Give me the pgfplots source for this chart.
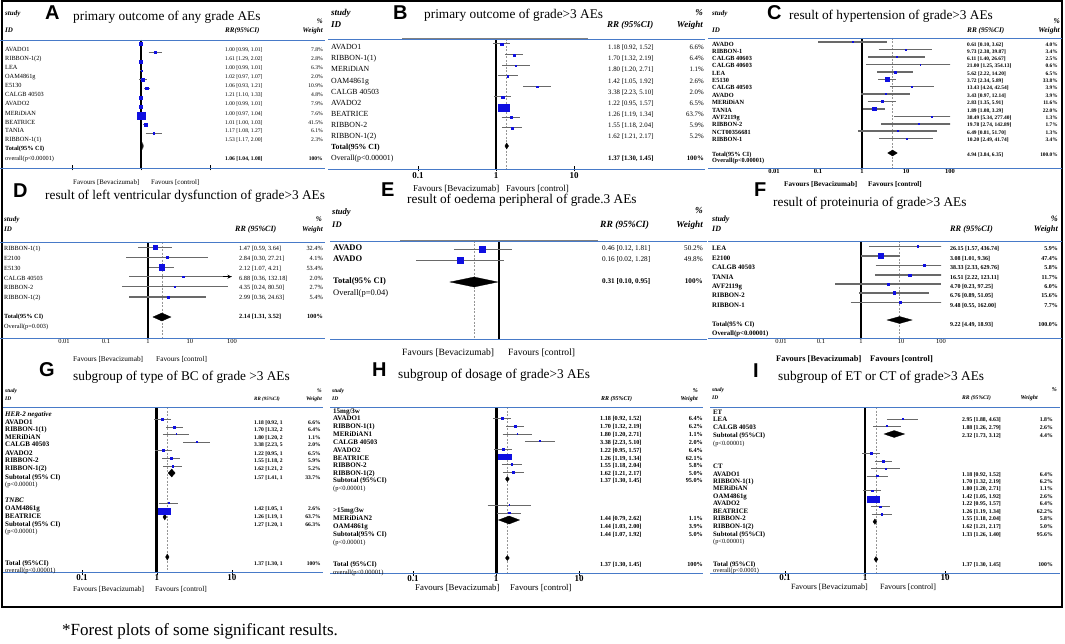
\documentclass[border=0pt]{standalone}
\usepackage{pgfplots}
\pgfplotsset{compat=1.18}
\usepackage{fontspec}
\setmainfont{Liberation Serif}
\newfontfamily\letterfont{Liberation Sans}
\usetikzlibrary{arrows.meta}

\definecolor{lnblue}{RGB}{72,122,200}
\definecolor{mkblue}{RGB}{15,15,225}
\definecolor{cigray}{RGB}{105,105,105}
\definecolor{refgray}{RGB}{150,150,150}

\newcommand{\fs}[1]{\fontsize{#1}{#1}\selectfont}

\pgfplotsset{
  forestax/.style={scale only axis, anchor=north west,
    axis x line=bottom, axis y line=none, x axis line style={draw=none},
    xminorticks=false, ytick=\empty, clip=true,
    major tick length=5pt, tick align=center,
    xtick style={black, line width=0.7pt},
    xticklabel style={inner sep=1pt}},
  refline/.style={black, line width=#1},
  poolline/.style={refgray, dash pattern=on 2pt off 1.5pt, line width=0.7pt},
  dia/.style={fill=black, draw=black, line width=0.3pt},
}

% one study: y (minus pixel row), RR, lower, upper, weight %, marker stretch
\newcommand{\st}[6]{%
  \addplot[cigray, line width=\ciw] coordinates {(#3,#1) (#4,#1)};
  \addplot[only marks, mark=square*, mkblue, mark size={\mc*sqrt(#5)},
    mark options={xscale=#6}] coordinates {(#2,#1)};
}

\newcommand{\leftcol}[3]{\foreach \yy/\tx in {#3}{\node[anchor=west, font=#2] at (#1,\yy) {\tx};}}
\newcommand{\rrcol}[4]{\foreach \yy/\rr/\ww in {#4}{%
  \node[anchor=west, font=#3] at (#1,\yy) {\rr};
  \node[anchor=east, font=#3] at (#2,\yy) {\ww};}}

\begin{document}
\begin{tikzpicture}
\path[use as bounding box] (0,0) rectangle (1065pt,-644pt);

% ---------------- A
\def\mc{0.54}\def\ciw{0.8pt}
\begin{axis}[forestax, xmode=log, at={(72pt,-40pt)}, width=138pt, height=128pt,
  xmin=0.1, xmax=10, ymin=-168, ymax=-40,
  xtick={0.1,1,10}, xticklabels={,,}]
  \addplot[refline=2.4pt] coordinates {(1,-40) (1,-168)};
  \st{-43.5}{1.00}{0.99}{1.01}{7.8}{1}
  \st{-52.5}{1.61}{1.29}{2.02}{2.8}{1}
  \st{-61.5}{1.00}{0.99}{1.01}{6.3}{1}
  \st{-70.5}{1.02}{0.97}{1.07}{2.0}{1}
  \st{-79.5}{1.06}{0.93}{1.21}{10.9}{1}
  \st{-88.5}{1.21}{1.10}{1.33}{4.8}{1}
  \st{-97.5}{1.00}{0.99}{1.01}{7.9}{1}
  \st{-107}{1.00}{0.97}{1.04}{7.6}{1}
  \st{-115.5}{1.01}{1.00}{1.03}{41.5}{1.1}
  \st{-124.5}{1.17}{1.08}{1.27}{6.1}{1}
  \st{-133.5}{1.53}{1.17}{2.00}{2.3}{1}
  \addplot[dia] coordinates {(1.04,-146) (1.06,-143) (1.08,-146) (1.06,-149)} -- cycle;
\end{axis}
% ---------------- B
\def\mc{0.44}\def\ciw{1pt}
\begin{axis}[forestax, xmode=log, at={(418pt,-39pt)}, width=156pt, height=130pt,
  xmin=0.1, xmax=10, ymin=-169, ymax=-39,
  xtick={0.1,1,10}, xticklabels={0.1,1,10},
  xticklabel style={font=\bfseries\fs{9}}]
  \addplot[refline=1.8pt] coordinates {(1,-39) (1,-169)};
  \addplot[poolline] coordinates {(1.37,-39) (1.37,-169)};
  \st{-44}{1.18}{0.92}{1.52}{6.6}{1}
  \st{-55}{1.70}{1.32}{2.19}{6.4}{1}
  \st{-65.5}{1.80}{1.20}{2.71}{1.1}{1}
  \st{-76}{1.42}{1.05}{1.92}{2.6}{1}
  \st{-86.5}{3.38}{2.23}{5.10}{2.0}{1}
  \st{-97}{1.22}{0.95}{1.57}{6.5}{1}
  \st{-107.5}{1.26}{1.19}{1.34}{63.7}{1.6}
  \st{-117.5}{1.55}{1.18}{2.04}{5.9}{1}
  \st{-128}{1.62}{1.21}{2.17}{5.2}{1}
  \addplot[dia] coordinates {(1.30,-146) (1.37,-143) (1.45,-146) (1.37,-149)} -- cycle;
\end{axis}
% ---------------- C
\def\mc{0.34}\def\ciw{1.2pt}
\begin{axis}[forestax, xmode=log, at={(774pt,-38pt)}, width=176pt, height=130pt,
  xmin=0.01, xmax=100, ymin=-168, ymax=-38, major tick length=0pt,
  xtick={0.01,0.1,1,10,100}, xticklabels={0.01,0.1,1,10,100},
  xticklabel style={font=\bfseries\fs{6.5}}]
  \addplot[refline=1.8pt] coordinates {(1,-38) (1,-168)};
  \addplot[poolline] coordinates {(4.94,-38) (4.94,-168)};
  \st{-42}{0.61}{0.10}{3.62}{4.0}{1}
  \st{-49.5}{9.73}{2.38}{39.87}{3.4}{1}
  \st{-57}{6.11}{1.40}{26.67}{2.5}{1}
  \st{-64.5}{21.00}{1.25}{354.13}{0.6}{1}
  \st{-72}{5.62}{2.22}{14.20}{6.5}{1}
  \st{-79.5}{3.72}{2.34}{5.89}{33.8}{1}
  \st{-86.5}{13.43}{4.24}{42.54}{3.9}{1}
  \st{-94}{3.43}{0.97}{12.14}{3.9}{1}
  \st{-101.5}{2.83}{1.35}{5.91}{11.6}{1}
  \st{-109}{1.89}{1.08}{3.29}{22.0}{1}
  \st{-116.5}{38.49}{5.34}{277.40}{1.3}{1}
  \st{-124}{19.78}{2.74}{142.89}{1.7}{1}
  \st{-131}{6.49}{0.81}{51.70}{1.3}{1}
  \st{-138.5}{10.20}{2.49}{41.74}{3.4}{1}
  \addplot[dia] coordinates {(3.84,-153) (4.94,-150) (6.35,-153) (4.94,-156)} -- cycle;
\end{axis}
% ---------------- D
\def\mc{0.38}\def\ciw{1.2pt}
\begin{axis}[forestax, xmode=log, at={(64pt,-242pt)}, width=168pt, height=96pt,
  xmin=0.01, xmax=100, ymin=-338, ymax=-242, major tick length=0pt,
  xtick={0.01,0.1,1,10,100}, xticklabels={0.01,0.1,1,10,100},
  xticklabel style={font=\fs{6.5}}]
  \addplot[refline=1.8pt] coordinates {(1,-242) (1,-338)};
  \addplot[poolline] coordinates {(2.14,-242) (2.14,-338)};
  \st{-247.3}{1.47}{0.59}{3.64}{32.4}{1}
  \st{-257.3}{2.84}{0.30}{27.21}{4.1}{1}
  \st{-267.3}{2.12}{1.07}{4.21}{53.4}{1}
  \st{-276.7}{6.88}{0.36}{132.18}{2.0}{1}
  \st{-286.7}{4.35}{0.24}{80.50}{2.7}{1}
  \st{-297}{2.99}{0.36}{24.63}{5.4}{1}
  \addplot[black, line width=1pt, -{Stealth[length=4pt,width=4pt]}] coordinates {(60,-276.7) (97,-276.7)};
  \addplot[dia] coordinates {(1.31,-317) (2.14,-313) (3.52,-317) (2.14,-321)} -- cycle;
\end{axis}
% ---------------- E
\def\mc{0.42}\def\ciw{1pt}
\begin{axis}[forestax, xmode=log, at={(401pt,-241pt)}, width=147pt, height=98pt,
  xmin=0.01, xmax=10, ymin=-339, ymax=-241, xtick=\empty]
  \addplot[refline=1.8pt] coordinates {(1,-241) (1,-339)};
  \addplot[poolline] coordinates {(0.31,-241) (0.31,-339)};
  \st{-249}{0.46}{0.12}{1.81}{50.2}{1}
  \st{-260}{0.16}{0.02}{1.28}{49.8}{1}
  \addplot[dia] coordinates {(0.10,-282) (0.31,-277) (0.95,-282) (0.31,-287)} -- cycle;
\end{axis}
% ---------------- F
\def\mc{0.36}\def\ciw{1.2pt}
\begin{axis}[forestax, xmode=log, at={(781pt,-241pt)}, width=160pt, height=97pt,
  xmin=0.01, xmax=100, ymin=-338, ymax=-241, major tick length=0pt,
  xtick={0.01,0.1,1,10,100}, xticklabels={0.01,0.1,1,10,100},
  xticklabel style={font=\fs{6.5}}]
  \addplot[refline=1.8pt] coordinates {(1,-241) (1,-338)};
  \addplot[poolline] coordinates {(9.22,-241) (9.22,-338)};
  \st{-246.5}{26.15}{1.57}{436.74}{5.9}{1}
  \st{-256}{3.08}{1.01}{9.36}{47.4}{1}
  \st{-265.5}{38.33}{2.33}{629.76}{5.8}{1}
  \st{-275}{16.51}{2.22}{123.11}{11.7}{1}
  \st{-284}{4.70}{0.23}{97.25}{6.0}{1}
  \st{-293}{6.76}{0.89}{51.05}{15.6}{1}
  \st{-302.5}{9.48}{0.55}{162.00}{7.7}{1}
  \addplot[dia] coordinates {(4.49,-320) (9.22,-316.5) (18.93,-320) (9.22,-323.5)} -- cycle;
\end{axis}
% ---------------- G
\def\mc{0.375}\def\ciw{1pt}
\begin{axis}[forestax, xmode=log, at={(82pt,-407pt)}, width=150pt, height=165pt,
  xmin=0.1, xmax=10, ymin=-572, ymax=-407,
  xtick={0.1,1,10}, xticklabels={0.1,1,10},
  xticklabel style={font=\bfseries\fs{9}, yshift=1pt}]
  \addplot[refline=3pt] coordinates {(1,-407) (1,-572)};
  \addplot[poolline] coordinates {(1.37,-407) (1.37,-572)};
  \st{-419}{1.18}{0.92}{1.52}{6.6}{1}
  \st{-427}{1.70}{1.32}{2.19}{6.4}{1}
  \st{-434}{1.80}{1.20}{2.71}{1.1}{1}
  \st{-442}{3.38}{2.23}{5.10}{2.0}{1}
  \st{-450}{1.22}{0.95}{1.57}{6.5}{1}
  \st{-458}{1.55}{1.18}{2.04}{5.9}{1}
  \st{-466}{1.62}{1.21}{2.17}{5.2}{1}
  \st{-503}{1.42}{1.05}{1.92}{2.6}{1}
  \st{-511}{1.26}{1.19}{1.34}{63.7}{2}
  \addplot[dia] coordinates {(1.41,-473) (1.57,-469) (1.75,-473) (1.57,-477)} -- cycle;
  \addplot[dia] coordinates {(1.20,-517) (1.27,-514) (1.34,-517) (1.27,-520)} -- cycle;
  \addplot[dia] coordinates {(1.30,-557) (1.37,-554) (1.45,-557) (1.37,-560)} -- cycle;
\end{axis}
% ---------------- H
\def\mc{0.32}\def\ciw{1pt}
\begin{axis}[forestax, xmode=log, at={(413pt,-407pt)}, width=166pt, height=166pt,
  xmin=0.1, xmax=10, ymin=-573, ymax=-407,
  xtick={0.1,1,10}, xticklabels={0.1,1,10},
  xticklabel style={font=\bfseries\fs{9}, yshift=1pt}]
  \addplot[refline=3pt] coordinates {(1,-407) (1,-573)};
  \addplot[poolline] coordinates {(1.37,-407) (1.37,-573)};
  \st{-418}{1.18}{0.92}{1.52}{6.4}{1}
  \st{-426}{1.70}{1.32}{2.19}{6.2}{1}
  \st{-434}{1.80}{1.20}{2.71}{1.1}{1}
  \st{-441}{3.38}{2.23}{5.10}{2.0}{1}
  \st{-449}{1.22}{0.95}{1.57}{6.4}{1}
  \st{-457}{1.26}{1.19}{1.34}{62.1}{2.6}
  \st{-464}{1.55}{1.18}{2.04}{5.8}{1}
  \st{-472}{1.62}{1.21}{2.17}{5.0}{1}
  \st{-505}{1.44}{0.79}{2.62}{1.1}{1}
  \st{-513}{1.44}{1.03}{2.00}{3.9}{1}
  \addplot[dia] coordinates {(1.30,-479) (1.37,-476.5) (1.45,-479) (1.37,-481.5)} -- cycle;
  \addplot[dia] coordinates {(1.07,-520) (1.44,-516) (1.92,-520) (1.44,-524)} -- cycle;
  \addplot[dia] coordinates {(1.30,-558) (1.37,-555.5) (1.45,-558) (1.37,-560.5)} -- cycle;
\end{axis}
% ---------------- I
\def\mc{0.38}\def\ciw{1pt}
\begin{axis}[forestax, xmode=log, at={(785pt,-407pt)}, width=160pt, height=166pt,
  xmin=0.1, xmax=10, ymin=-573, ymax=-407,
  xtick={0.1,1,10}, xticklabels={0.1,1,10},
  xticklabel style={font=\bfseries\fs{9}, yshift=2pt}]
  \addplot[refline=2.5pt] coordinates {(1,-407) (1,-573)};
  \addplot[poolline] coordinates {(1.37,-407) (1.37,-573)};
  \st{-419}{2.95}{1.88}{4.63}{1.8}{1}
  \st{-426}{1.88}{1.26}{2.79}{2.6}{1}
  \st{-453.3}{1.18}{0.92}{1.52}{6.4}{1}
  \st{-461}{1.70}{1.32}{2.19}{6.2}{1}
  \st{-468.3}{1.80}{1.20}{2.71}{1.1}{1}
  \st{-476}{1.42}{1.05}{1.92}{2.6}{1}
  \st{-490.7}{1.22}{0.95}{1.57}{6.4}{1}
  \st{-499}{1.26}{1.19}{1.34}{62.2}{2}
  \st{-506.7}{1.55}{1.18}{2.04}{5.8}{1}
  \st{-514}{1.62}{1.21}{2.17}{5.0}{1}
  \addplot[dia] coordinates {(1.73,-434) (2.32,-430.5) (3.12,-434) (2.32,-437.5)} -- cycle;
  \addplot[dia] coordinates {(1.26,-521.7) (1.33,-519) (1.40,-521.7) (1.33,-524.4)} -- cycle;
  \addplot[dia] coordinates {(1.30,-559.3) (1.37,-556.5) (1.45,-559.3) (1.37,-562)} -- cycle;
\end{axis}

\begin{scope}[x=1pt, y=-1pt, every node/.style={inner sep=0pt, text height=0.66em, text depth=0pt}]
% frame, rules
\draw[line width=1.5pt] (2,1) rectangle (1062,607);
\foreach \ya/\yb/\xa/\xb in {40/168/0/325, 39/169/328/705, 38/168/708/1062,
  242/338/0/325, 241/339/330/707, 241/338/708/1062,
  407/572/3/323, 407/573/330/703, 407/573/710/1060}{
  \draw[lnblue, line width=0.9pt] (\xa,\ya) -- (\xb,\ya);
  \draw[lnblue, line width=0.9pt] (\xa,\yb) -- (\xb,\yb);}
\draw[gray, line width=1.6pt] (402,38.6) -- (588,38.6);
\draw[gray, line width=1.6pt] (400,240.6) -- (598,240.6);

% ---------------- A text
\node[anchor=west, font=\letterfont\bfseries\fs{20}] at (45,16) {A};
\node[anchor=west, font=\fs{13.3}] at (73,17) {primary outcome of any grade AEs};
\node[anchor=west, font=\bfseries\itshape\fs{7}] at (5,12) {study};
\node[anchor=west, font=\bfseries\itshape\fs{7}] at (5,29) {ID};
\node[anchor=west, font=\bfseries\itshape\fs{7}] at (225,29) {RR(95\%CI)};
\node[anchor=east, font=\bfseries\itshape\fs{7}] at (323,20) {\%};
\node[anchor=east, font=\bfseries\itshape\fs{7}] at (323,29) {Weight};
\leftcol{5}{\fs{6.3}}{48/{AVADO1}, 57/{RIBBON-1(2)}, 66/{LEA}, 75/{OAM4861g}, 84/{E5130},
  93/{CALGB 40503}, 102/{AVADO2}, 112/{MERiDiAN}, 121/{BEATRICE}, 129/{TANIA},
  138/{RIBBON-1(1)}, 157/{overall(p<0.00001)}}
\leftcol{5}{\bfseries\fs{6.3}}{147/{Total(95\% CI)}}
\rrcol{225}{323}{\fs{5.6}}{48/{1.00 [0.99, 1.01]}/{7.8\%}, 57/{1.61 [1.29, 2.02]}/{2.8\%},
  66/{1.00 [0.99, 1.01]}/{6.3\%}, 75/{1.02 [0.97, 1.07]}/{2.0\%}, 84/{1.06 [0.93, 1.21]}/{10.9\%},
  93/{1.21 [1.10, 1.33]}/{4.8\%}, 102/{1.00 [0.99, 1.01]}/{7.9\%}, 112/{1.00 [0.97, 1.04]}/{7.6\%},
  121/{1.01 [1.00, 1.03]}/{41.5\%}, 129/{1.17 [1.08, 1.27]}/{6.1\%}, 138/{1.53 [1.17, 2.00]}/{2.3\%}}
\rrcol{225}{323}{\bfseries\fs{5.6}}{157/{1.06 [1.04, 1.08]}/{100\%}}
\node[anchor=west, font=\fs{6.9}] at (73,181) {Favours [Bevacizumab]};
\node[anchor=west, font=\fs{6.9}] at (151,181) {Favours [control]};

% ---------------- B text
\node[anchor=west, font=\letterfont\bfseries\fs{20}] at (393,16) {B};
\node[anchor=west, font=\fs{13.3}] at (424,15) {primary outcome of grade>3 AEs};
\node[anchor=west, font=\bfseries\itshape\fs{9}] at (331,12) {study};
\node[anchor=west, font=\bfseries\itshape\fs{9}] at (331,24) {ID};
\node[anchor=west, font=\bfseries\itshape\fs{9}] at (607,24) {RR (95\%CI)};
\node[anchor=east, font=\bfseries\itshape\fs{9}] at (703,12) {\%};
\node[anchor=east, font=\bfseries\itshape\fs{9}] at (703,24) {Weight};
\leftcol{331}{\fs{7.8}}{46/{AVADO1}, 57/{RIBBON-1(1)}, 68/{MERiDiAN}, 80/{OAM4861g},
  91/{CALGB 40503}, 102/{AVADO2}, 113/{BEATRICE}, 124/{RIBBON-2}, 135/{RIBBON-1(2)},
  157/{Overall(p<0.00001)}}
\leftcol{331}{\bfseries\fs{7.8}}{146/{Total(95\% CI)}}
\rrcol{608}{704}{\fs{6.8}}{46/{1.18 [0.92, 1.52]}/{6.6\%}, 57/{1.70 [1.32, 2.19]}/{6.4\%},
  68/{1.80 [1.20, 2.71]}/{1.1\%}, 80/{1.42 [1.05, 1.92]}/{2.6\%}, 91/{3.38 [2.23, 5.10]}/{2.0\%},
  102/{1.22 [0.95, 1.57]}/{6.5\%}, 113/{1.26 [1.19, 1.34]}/{63.7\%}, 124/{1.55 [1.18, 2.04]}/{5.9\%},
  135/{1.62 [1.21, 2.17]}/{5.2\%}}
\rrcol{608}{704}{\bfseries\fs{6.8}}{157/{1.37 [1.30, 1.45]}/{100\%}}
\node[anchor=west, font=\fs{9}] at (413,188) {Favours [Bevacizumab]};
\node[anchor=west, font=\fs{9}] at (506,188) {Favours [control]};

% ---------------- C text
\node[anchor=west, font=\letterfont\bfseries\fs{20}] at (767,16) {C};
\node[anchor=west, font=\fs{13.3}] at (789,16) {result of hypertension of grade>3 AEs};
\node[anchor=west, font=\bfseries\itshape\fs{7}] at (712,12) {study};
\node[anchor=west, font=\bfseries\itshape\fs{7}] at (712,29) {ID};
\node[anchor=west, font=\bfseries\itshape\fs{7.2}] at (967,29) {RR (95\%CI)};
\node[anchor=east, font=\bfseries\itshape\fs{7.5}] at (1060,20) {\%};
\node[anchor=east, font=\bfseries\itshape\fs{7.5}] at (1060,29) {Weight};
\leftcol{712}{\bfseries\fs{6.3}}{43/{AVADO}, 50/{RIBBON-1}, 57/{CALGB 40603}, 64/{CALGB 40603},
  72/{LEA}, 79/{E5130}, 86/{CALGB 40503}, 94/{AVADO}, 101/{MERiDiAN}, 109/{TANIA},
  116/{AVF2119g}, 123/{RIBBON-2}, 131/{NCT00356681}, 138/{RIBBON-1},
  153/{Total(95\% CI)}, 159/{Overall(p<0.00001)}}
\rrcol{967}{1058}{\bfseries\fs{5.4}}{43/{0.61 [0.10, 3.62]}/{4.0\%}, 50/{9.73 [2.38, 39.87]}/{3.4\%},
  57/{6.11 [1.40, 26.67]}/{2.5\%}, 64/{21.00 [1.25, 354.13]}/{0.6\%}, 72/{5.62 [2.22, 14.20]}/{6.5\%},
  79/{3.72 [2.34, 5.89]}/{33.8\%}, 86/{13.43 [4.24, 42.54]}/{3.9\%}, 94/{3.43 [0.97, 12.14]}/{3.9\%},
  101/{2.83 [1.35, 5.91]}/{11.6\%}, 109/{1.89 [1.08, 3.29]}/{22.0\%}, 116/{38.49 [5.34, 277.40]}/{1.3\%},
  123/{19.78 [2.74, 142.89]}/{1.7\%}, 131/{6.49 [0.81, 51.70]}/{1.3\%}, 138/{10.20 [2.49, 41.74]}/{3.4\%},
  153/{4.94 [3.84, 6.35]}/{100.0\%}}
\node[anchor=west, font=\bfseries\fs{7.2}] at (784,183) {Favours [Bevacizumab]};
\node[anchor=west, font=\bfseries\fs{7.2}] at (868,183) {Favours [control]};

% ---------------- D text
\node[anchor=west, font=\letterfont\bfseries\fs{20}] at (13,194) {D};
\node[anchor=west, font=\fs{13.3}] at (45,196) {result of left ventricular dysfunction of grade>3 AEs};
\node[anchor=west, font=\bfseries\itshape\fs{7}] at (4,218) {study};
\node[anchor=west, font=\bfseries\itshape\fs{7}] at (4,228) {ID};
\node[anchor=west, font=\bfseries\itshape\fs{8}] at (235,228) {RR (95\%CI)};
\node[anchor=east, font=\bfseries\itshape\fs{7.2}] at (322,218) {\%};
\node[anchor=east, font=\bfseries\itshape\fs{7.2}] at (323,228) {Weight};
\leftcol{4}{\fs{6.3}}{247/{RIBBON-1(1)}, 257/{E2100}, 267/{E5130}, 277/{CALGB 40503},
  286/{RIBBON-2}, 296/{RIBBON-1(2)}, 325/{Overall(p=0.003)}}
\leftcol{4}{\bfseries\fs{6.3}}{315/{Total(95\% CI)}}
\rrcol{239}{323}{\fs{6.3}}{247/{1.47 [0.59, 3.64]}/{32.4\%}, 257/{2.84 [0.30, 27.21]}/{4.1\%},
  267/{2.12 [1.07, 4.21]}/{53.4\%}, 277/{6.88 [0.36, 132.18]}/{2.0\%}, 286/{4.35 [0.24, 80.50]}/{2.7\%},
  296/{2.99 [0.36, 24.63]}/{5.4\%}}
\rrcol{239}{323}{\bfseries\fs{6.3}}{315/{2.14 [1.31, 3.52]}/{100\%}}
\node[anchor=west, font=\fs{7.3}] at (73,358) {Favours [Bevacizumab]};
\node[anchor=west, font=\fs{7.3}] at (156,358) {Favours [control]};

% ---------------- E text
\node[anchor=west, font=\letterfont\bfseries\fs{20}] at (381,193) {E};
\node[anchor=west, font=\fs{13.3}] at (407,200) {result of oedema peripheral of grade.3 AEs};
\node[anchor=west, font=\bfseries\itshape\fs{8.5}] at (332,211) {study};
\node[anchor=west, font=\bfseries\itshape\fs{8.5}] at (332,224) {ID};
\node[anchor=west, font=\bfseries\itshape\fs{9.5}] at (600,224) {RR (95\%CI)};
\node[anchor=east, font=\bfseries\itshape\fs{9.2}] at (703,210) {\%};
\node[anchor=east, font=\bfseries\itshape\fs{9.2}] at (703,224) {Weight};
\leftcol{333}{\bfseries\fs{8.5}}{247/{AVADO}, 258/{AVADO}, 280/{Total(95\% CI)}}
\leftcol{333}{\fs{8.5}}{292/{Overall(p=0.04)}}
\rrcol{602}{703}{\fs{7.2}}{247/{0.46 [0.12, 1.81]}/{50.2\%}, 258/{0.16 [0.02, 1.28]}/{49.8\%}}
\rrcol{602}{703}{\bfseries\fs{7.2}}{280/{0.31 [0.10, 0.95]}/{100\%}}
\node[anchor=west, font=\fs{9.6}] at (402,352) {Favours [Bevacizumab]};
\node[anchor=west, font=\fs{9.6}] at (508,352) {Favours [control]};

% ---------------- F text
\node[anchor=west, font=\letterfont\bfseries\fs{20}] at (754,193) {F};
\node[anchor=west, font=\fs{13.3}] at (773,203) {result of proteinuria of grade>3 AEs};
\node[anchor=west, font=\bfseries\itshape\fs{8}] at (712,218) {study};
\node[anchor=west, font=\bfseries\itshape\fs{8}] at (712,228) {ID};
\node[anchor=west, font=\bfseries\itshape\fs{8.3}] at (950,228) {RR (95\%CI)};
\node[anchor=east, font=\bfseries\itshape\fs{8.3}] at (1058,218) {\%};
\node[anchor=east, font=\bfseries\itshape\fs{8.3}] at (1058,228) {Weight};
\leftcol{712}{\bfseries\fs{6.8}}{247/{LEA}, 257/{E2100}, 266/{CALGB 40503}, 276/{TANIA},
  285/{AVF2119g}, 294/{RIBBON-2}, 304/{RIBBON-1}, 323/{Total(95\% CI)}, 332/{Overall(p<0.00001)}}
\rrcol{950}{1058}{\bfseries\fs{6}}{247/{26.15 [1.57, 436.74]}/{5.9\%}, 257/{3.08 [1.01, 9.36]}/{47.4\%},
  266/{38.33 [2.33, 629.76]}/{5.8\%}, 276/{16.51 [2.22, 123.11]}/{11.7\%}, 285/{4.70 [0.23, 97.25]}/{6.0\%},
  294/{6.76 [0.89, 51.05]}/{15.6\%}, 304/{9.48 [0.55, 162.00]}/{7.7\%}, 323/{9.22 [4.49, 18.93]}/{100.0\%}}
\node[anchor=west, font=\bfseries\fs{8.4}] at (776,358) {Favours [Bevacizumab]};
\node[anchor=west, font=\bfseries\fs{8.4}] at (870,358) {Favours [control]};

% ---------------- G text
\node[anchor=west, font=\letterfont\bfseries\fs{20}] at (39,373) {G};
\node[anchor=west, font=\fs{13.3}] at (73,377) {subgroup of type of BC of grade >3 AEs};
\node[anchor=west, font=\bfseries\itshape\fs{5.5}] at (5,389) {study};
\node[anchor=west, font=\bfseries\itshape\fs{5.5}] at (5,397) {ID};
\node[anchor=west, font=\bfseries\itshape\fs{5}] at (254,397) {RR (95\%CI)};
\node[anchor=east, font=\bfseries\itshape\fs{5.5}] at (322,389) {\%};
\node[anchor=east, font=\bfseries\itshape\fs{5.5}] at (322,397) {Weight};
\leftcol{5}{\bfseries\itshape\fs{7}}{413/{HER-2 negative}, 499/{TNBC}}
\leftcol{5}{\bfseries\fs{7}}{421/{AVADO1}, 428/{RIBBON-1(1)}, 436/{MERiDiAN}, 443/{CALGB 40503},
  452/{AVADO2}, 459/{RIBBON-2}, 467/{RIBBON-1(2)}, 476/{Subtotal (95\% CI)},
  507/{OAM4861g}, 515/{BEATRICE}, 523/{Subtotal (95\% CI)}, 562/{Total (95\%CI)}}
\leftcol{5}{\fs{6.5}}{483/{(p<0.00001)}, 530/{(p<0.00001)}, 569/{overall(p<0.00001)}}
\rrcol{254}{321}{\bfseries\fs{5.6}}{421/{1.18 [0.92, 1}/{6.6\%}, 428/{1.70 [1.32, 2}/{6.4\%},
  436/{1.80 [1.20, 2}/{1.1\%}, 443/{3.38 [2.23, 5}/{2.0\%}, 452/{1.22 [0.95, 1}/{6.5\%},
  459/{1.55 [1.18, 2}/{5.9\%}, 467/{1.62 [1.21, 2}/{5.2\%}, 476/{1.57 [1.41, 1}/{33.7\%},
  507/{1.42 [1.05, 1}/{2.6\%}, 515/{1.26 [1.19, 1}/{63.7\%}, 523/{1.27 [1.20, 1}/{66.3\%},
  562/{1.37 [1.30, 1}/{100\%}}
\node[anchor=west, font=\fs{7.4}] at (73,588) {Favours [Bevacizumab]};
\node[anchor=west, font=\fs{7.4}] at (155,588) {Favours [control]};

% ---------------- H text
\node[anchor=west, font=\letterfont\bfseries\fs{20}] at (372,373) {H};
\node[anchor=west, font=\fs{13.3}] at (398,375) {subgroup of dosage of grade>3 AEs};
\node[anchor=west, font=\bfseries\itshape\fs{5.5}] at (332,389) {study};
\node[anchor=west, font=\bfseries\itshape\fs{5.5}] at (332,397) {ID};
\node[anchor=west, font=\bfseries\itshape\fs{6}] at (601,397) {RR (95\%CI)};
\node[anchor=east, font=\bfseries\itshape\fs{6}] at (698,389) {\%};
\node[anchor=east, font=\bfseries\itshape\fs{6}] at (698,397) {Weight};
\leftcol{333}{\bfseries\fs{7}}{410/{15mg/3w}, 417/{AVADO1}, 425/{RIBBON-1(1)}, 433/{MERiDiAN1},
  441/{CALGB 40503}, 449/{AVADO2}, 457/{BEATRICE}, 464/{RIBBON-2}, 472/{RIBBON-1(2)},
  479/{Subtotal (95\%CI)}, 509/{>15mg/3w}, 517/{MERiDiAN2}, 525/{OAM4861g},
  533/{Subtotal(95\% CI)}, 563/{Total (95\%CI)}}
\leftcol{333}{\fs{6.5}}{487/{(p<0.00001)}, 541/{(p<0.00001)}, 571/{overall(p<0.00001)}}
\rrcol{600}{703}{\bfseries\fs{6.2}}{417/{1.18 [0.92, 1.52]}/{6.4\%}, 425/{1.70 [1.32, 2.19]}/{6.2\%},
  433/{1.80 [1.20, 2.71]}/{1.1\%}, 441/{3.38 [2.23, 5.10]}/{2.0\%}, 449/{1.22 [0.95, 1.57]}/{6.4\%},
  457/{1.26 [1.19, 1.34]}/{62.1\%}, 464/{1.55 [1.18, 2.04]}/{5.8\%}, 472/{1.62 [1.21, 2.17]}/{5.0\%},
  479/{1.37 [1.30, 1.45]}/{95.0\%}, 517/{1.44 [0.79, 2.62]}/{1.1\%}, 525/{1.44 [1.03, 2.00]}/{3.9\%},
  533/{1.44 [1.07, 1.92]}/{5.0\%}, 563/{1.37 [1.30, 1.45]}/{100\%}}
\node[anchor=west, font=\fs{8.8}] at (415,587) {Favours [Bevacizumab]};
\node[anchor=west, font=\fs{8.8}] at (510,587) {Favours [control]};

% ---------------- I text
\node[anchor=west, font=\letterfont\bfseries\fs{20}] at (753,374) {I};
\node[anchor=west, font=\fs{13.3}] at (778,377) {subgroup of ET or CT of grade>3 AEs};
\node[anchor=west, font=\bfseries\itshape\fs{5.5}] at (712,388) {study};
\node[anchor=west, font=\bfseries\itshape\fs{5.5}] at (712,396) {ID};
\node[anchor=west, font=\bfseries\itshape\fs{5.6}] at (962,396) {RR (95\%CI)};
\node[anchor=east, font=\bfseries\itshape\fs{6}] at (1057,388) {\%};
\node[anchor=east, font=\bfseries\itshape\fs{6}] at (1038,396) {Weight};
\leftcol{713}{\bfseries\fs{6.8}}{411/{ET}, 418/{LEA}, 426/{CALGB 40503}, 434/{Subtotal (95\%CI)},
  465/{CT}, 473/{AVADO1}, 480/{RIBBON-1(1)}, 487/{MERiDiAN}, 495/{OAM4861g}, 502/{AVADO2},
  510/{BEATRICE}, 517/{RIBBON-2}, 525/{RIBBON-1(2)}, 533/{Subtotal (95\%CI)}, 563/{Total (95\%CI)}}
\leftcol{713}{\fs{6.3}}{442/{(p<0.00001)}, 540/{(p<0.00001)}, 569/{overall(p<0.0001)}}
\rrcol{962}{1053}{\bfseries\fs{5.8}}{418/{2.95 [1.88, 4.63]}/{1.8\%}, 426/{1.88 [1.26, 2.79]}/{2.6\%},
  434/{2.32 [1.73, 3.12]}/{4.4\%}, 473/{1.18 [0.92, 1.52]}/{6.4\%}, 480/{1.70 [1.32, 2.19]}/{6.2\%},
  487/{1.80 [1.20, 2.71]}/{1.1\%}, 495/{1.42 [1.05, 1.92]}/{2.6\%}, 502/{1.22 [0.95, 1.57]}/{6.4\%},
  510/{1.26 [1.19, 1.34]}/{62.2\%}, 517/{1.55 [1.18, 2.04]}/{5.8\%}, 525/{1.62 [1.21, 2.17]}/{5.0\%},
  533/{1.33 [1.26, 1.40]}/{95.6\%}, 563/{1.37 [1.30, 1.45]}/{100\%}}
\node[anchor=west, font=\fs{8}] at (791,586) {Favours [Bevacizumab]};
\node[anchor=west, font=\fs{8}] at (880,586) {Favours [control]};

% ---------------- caption
\node[anchor=west, font=\fs{17}] at (62,632) {*Forest plots of some significant results.};
\end{scope}
\end{tikzpicture}
\end{document}
